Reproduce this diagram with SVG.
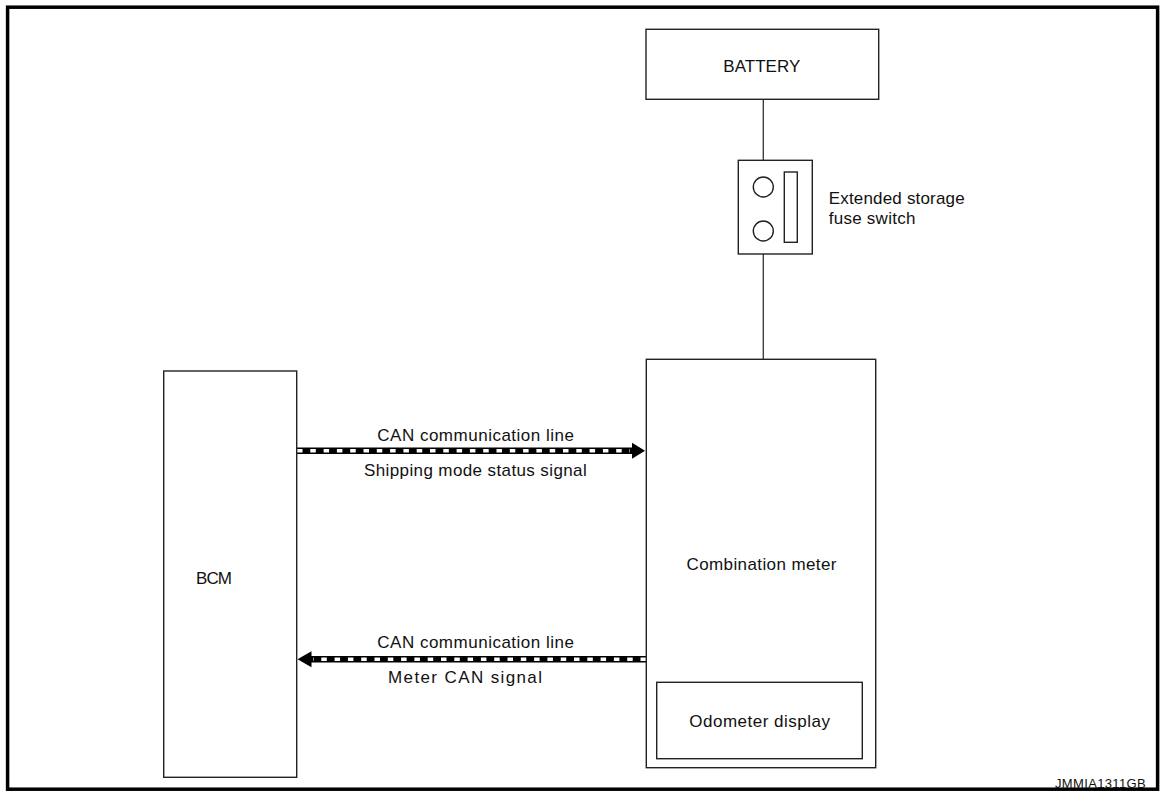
<svg xmlns="http://www.w3.org/2000/svg" width="1162" height="792" viewBox="0 0 1162 792">
<style>
text{font-family:"Liberation Sans",Arial,sans-serif;font-size:17px;fill:#111}
.box{fill:#fff;stroke:#222;stroke-width:1.4}
.wire{fill:none;stroke:#333;stroke-width:1.3}
.can{fill:none;stroke:#000;stroke-width:6.5}
.dash{fill:none;stroke:#fff;stroke-width:3.4;stroke-dasharray:5.5 7.8}
.head{fill:#000}
</style>
<rect x="0" y="0" width="1162" height="792" fill="#fff"/>
<rect x="7.6" y="7.2" width="1150" height="782" fill="none" stroke="#000" stroke-width="3.5"/>
<g id="connectors">
<line class="wire" x1="763.3" y1="99.3" x2="763.3" y2="176.7"/>
<line class="wire" x1="763.3" y1="241" x2="763.3" y2="359.3"/>
<path class="can" d="M297,450.7 H634"/>
<path class="dash" d="M297,450.7 H630"/>
<polygon class="head" points="632,442.7 645,450.7 632,458.7"/>
<path class="can" d="M646,659.3 H310"/>
<path class="dash" d="M646,659.3 H313"/>
<polygon class="head" points="311.5,651.3 297.5,659.3 311.5,667.3"/>
<text x="377.3" y="440.7" textLength="196.7" lengthAdjust="spacing">CAN communication line</text>
<text x="364" y="476" textLength="222.7" lengthAdjust="spacing">Shipping mode status signal</text>
<text x="377.3" y="647.7" textLength="196.7" lengthAdjust="spacing">CAN communication line</text>
<text x="388" y="683.3" textLength="154" lengthAdjust="spacing">Meter CAN signal</text>
</g>
<g id="battery">
<rect class="box" x="646" y="29.3" width="232.7" height="70"/>
<text x="723.3" y="71.7" textLength="77" lengthAdjust="spacing">BATTERY</text>
</g>
<g id="fuse-switch">
<rect class="box" x="738.3" y="160.3" width="74" height="93.7"/>
<circle class="box" cx="763.3" cy="187" r="10"/>
<circle class="box" cx="763.3" cy="231" r="10"/>
<rect class="box" x="784.3" y="172" width="13" height="70.3"/>
<text x="828.7" y="204" textLength="136" lengthAdjust="spacing">Extended storage</text>
<text x="828.7" y="223.5" textLength="86.7" lengthAdjust="spacing">fuse switch</text>
</g>
<g id="bcm">
<rect class="box" x="163.7" y="371" width="133" height="406.3"/>
<text x="196" y="584" textLength="36" lengthAdjust="spacing">BCM</text>
</g>
<g id="combination-meter">
<rect class="box" x="646.3" y="359.3" width="229.4" height="408.4"/>
<text x="686.5" y="570" textLength="150" lengthAdjust="spacing">Combination meter</text>
<g id="odometer-display">
<rect class="box" x="656.7" y="682.3" width="205.6" height="76.4"/>
<text x="689.3" y="726.7" textLength="140.7" lengthAdjust="spacing">Odometer display</text>
</g>
</g>
<text x="1055" y="787.7" style="font-size:13px" textLength="90.7" lengthAdjust="spacing">JMMIA1311GB</text>
</svg>
